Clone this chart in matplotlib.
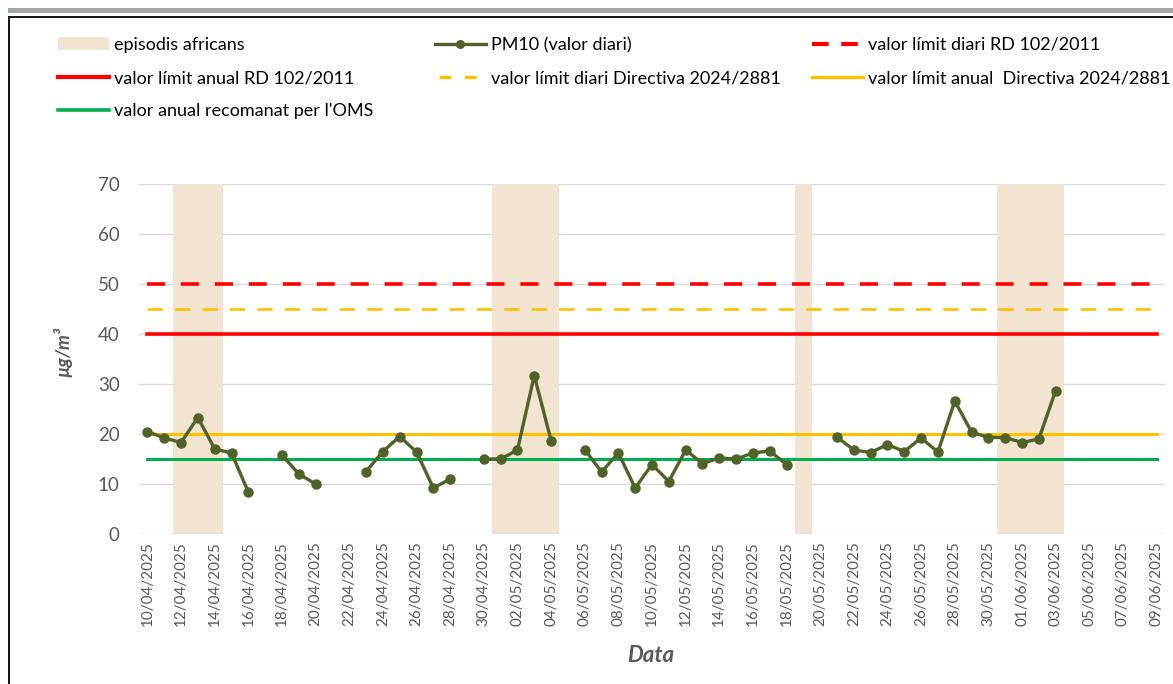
import numpy as np
import pandas as pd
import matplotlib
matplotlib.use("Agg")
import matplotlib.pyplot as plt
from matplotlib.lines import Line2D
from matplotlib.patches import Rectangle, Patch

plt.rcParams['font.family'] = ['Lato', 'DejaVu Sans']

# ---------------- data ----------------
dates = pd.date_range('2025-04-10', '2025-06-09', freq='D')
date_labels = [d.strftime('%d/%m/%Y') for d in dates]

nan = np.nan
pm10 = [20.5, 19.2, 18.3, 23.3, 17.0, 16.2, 8.4, nan, 15.8, 12.0,
        10.0, nan, nan, 12.5, 16.5, 19.5, 16.4, 9.2, 11.0, nan,
        15.0, 15.0, 16.8, 31.7, 18.7, nan, 16.9, 12.4, 16.2, 9.2,
        13.9, 10.5, 16.8, 14.1, 15.2, 15.0, 16.2, 16.6, 13.9, nan,
        nan, 19.4, 16.8, 16.3, 17.9, 16.5, 19.2, 16.4, 26.6, 20.4,
        19.3, 19.3, 18.3, 19.0, 28.7, nan, nan, nan, nan, nan, nan]

episode_days = ['12/04/2025', '13/04/2025', '14/04/2025',
                '01/05/2025', '02/05/2025', '03/05/2025', '04/05/2025',
                '19/05/2025',
                '31/05/2025', '01/06/2025', '02/06/2025', '03/06/2025']
episode_height = 70

limit_daily_rd = 50        # valor límit diari RD 102/2011
limit_annual_rd = 40       # valor límit anual RD 102/2011
limit_daily_dir = 45       # valor límit diari Directiva 2024/2881
limit_annual_dir = 20      # valor límit anual Directiva 2024/2881
oms_annual = 15            # valor anual recomanat per l'OMS

labels = ['episodis africans', 'PM10 (valor diari)', 'valor límit diari RD 102/2011',
          'valor límit anual RD 102/2011', 'valor límit diari Directiva 2024/2881',
          'valor límit anual  Directiva 2024/2881', "valor anual recomanat per l'OMS"]

# ---------------- styles ----------------
c_band = '#F2E4D1'
c_pm = '#4F6228'
c_red = '#FF0000'
c_orange = '#FFC000'
c_green = '#00B050'
c_text = '#595959'
c_grid = '#D9D9D9'

W, H = 1173, 684
fig = plt.figure(figsize=(W / 100, H / 100), dpi=100)
fig.patch.set_facecolor('white')

ax = fig.add_axes([139 / W, 1 - 534 / H, (1165 - 139) / W, (534 - 184) / H])

n = len(dates)
x = np.arange(n)
idx = {lab: i for i, lab in enumerate(date_labels)}
ep_x = [idx[d] for d in episode_days]

ax.bar(ep_x, [episode_height] * len(ep_x), width=1.0, color=c_band, zorder=1)

def const(v):
    return np.full(n, v, dtype=float)

ax.plot(x, const(limit_daily_rd), color=c_red, lw=2.6, ls=(0, (5.0, 4.4)),
        dash_capstyle='butt', zorder=3)
ax.plot(x, const(limit_daily_dir), color=c_orange, lw=1.9, ls=(0, (5.8, 4.6)),
        dash_capstyle='butt', zorder=3)
ax.plot(x, const(limit_annual_rd), color=c_red, lw=2.6, zorder=3)
ax.plot(x, const(limit_annual_dir), color=c_orange, lw=2.2, zorder=3)
ax.plot(x, const(oms_annual), color=c_green, lw=2.2, zorder=3)
ax.plot(x, pm10, color=c_pm, lw=2.4, marker='o', ms=6.5, zorder=4)

ax.set_xlim(-0.5, n - 0.5)
ax.set_ylim(0, 70)
ax.set_yticks(np.arange(0, 71, 10))
ax.set_xticks(x[::2])
ax.set_xticklabels(date_labels[::2], rotation=90, fontsize=11, color=c_text)
ax.tick_params(axis='y', labelsize=13.5, colors=c_text, length=0, pad=14)
ax.tick_params(axis='x', length=0, pad=5)
ax.grid(axis='y', color=c_grid, lw=1.0, zorder=0)
ax.set_axisbelow(True)
for s in ax.spines.values():
    s.set_visible(False)

fig.text(651 / W, 1 - 655 / H, 'Data', ha='center', va='center', fontsize=16,
         fontweight='bold', fontstyle='italic', color=c_text)
fig.text(63 / W, 1 - 352 / H, 'µg/m³', ha='center', va='center', rotation=90,
         fontsize=13.5, fontweight='bold', fontstyle='italic', color=c_text)

# ---------------- legend ----------------
h_band = Patch(facecolor=c_band, edgecolor='none')
h_pm = Line2D([], [], color=c_pm, lw=2.4, marker='o', ms=5.5)
h_rd_d = Line2D([], [], color=c_red, lw=3.0, ls=(0, (4.0, 3.0)), dash_capstyle='butt')
h_rd_a = Line2D([], [], color=c_red, lw=3.0)
h_dir_d = Line2D([], [], color=c_orange, lw=2.4, ls=(6.4, (3.6, 4.0)), dash_capstyle='butt')
h_dir_a = Line2D([], [], color=c_orange, lw=2.4)
h_oms = Line2D([], [], color=c_green, lw=2.6)

cols = [([h_band, h_rd_a, h_oms], [labels[0], labels[3], labels[6]], 58),
        ([h_pm, h_dir_d], [labels[1], labels[4]], 435),
        ([h_rd_d, h_dir_a], [labels[2], labels[5]], 812)]
for hs, ls_, xpos in cols:
    fig.legend(hs, ls_, loc='upper left', bbox_to_anchor=(xpos / W, 1 - 37 / H),
               frameon=False, fontsize=13, handlelength=2.8, handletextpad=0.3,
               labelspacing=0.95, borderpad=0, borderaxespad=0, labelcolor='black')

# ---------------- frame decorations ----------------
fig.add_artist(Rectangle((8 / W, 1 - 12.5 / H), 1 - 8 / W, 4.5 / H,
                         transform=fig.transFigure, color='#9BA6A5', lw=0))
fig.add_artist(Line2D([8.5 / W, 1], [1 - 16.5 / H, 1 - 16.5 / H],
                      transform=fig.transFigure, color='black', lw=1.3))
fig.add_artist(Line2D([8.5 / W, 8.5 / W], [0, 1 - 16.5 / H],
                      transform=fig.transFigure, color='black', lw=1.3))

fig.savefig('out.png', dpi=100)
